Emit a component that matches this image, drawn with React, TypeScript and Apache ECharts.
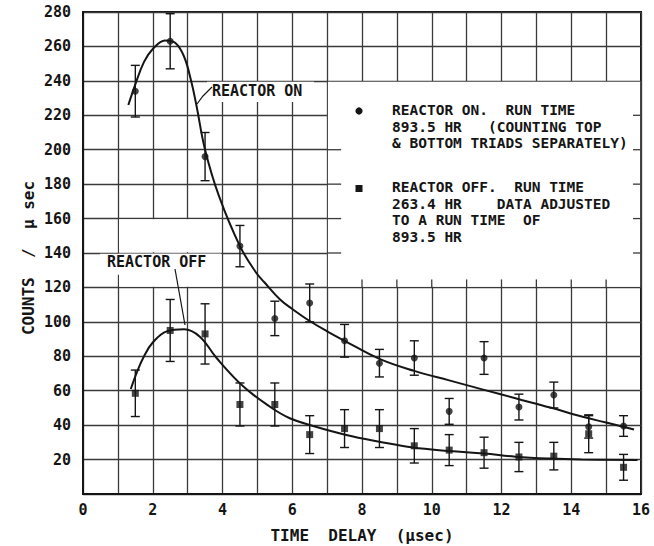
import React, { useEffect, useRef } from "react";
import * as echarts from "echarts";

// Delay-bin centres (μsec)
const delays = [1.5, 2.5, 3.5, 4.5, 5.5, 6.5, 7.5, 8.5, 9.5, 10.5, 11.5, 12.5, 13.5, 14.5, 15.5];

// Reactor on: counts per μsec and one-sigma errors
const onCounts = [234, 263, 196, 144, 102, 111, 89, 76, 79, 48, 79, 50.5, 57.5, 39, 39.5];
const onErrors = [15, 16, 14, 12, 10, 11, 9.5, 8, 10, 7.5, 9.5, 7.5, 7.5, 6.5, 6];

// Reactor off (scaled to 893.5 hr): counts per μsec and errors
const offCounts = [58.5, 95, 93, 52, 52, 34.5, 38, 38, 28, 25.5, 24, 21.5, 22, 35, 15.5];
const offErrors = [13.5, 18, 17.5, 12.5, 12.5, 11, 11, 11, 10, 9, 9, 8.5, 8, 11, 7.5];

// Hand-fitted curves through each data set
const onCurve = [
  [1.3, 226], [1.5, 238], [1.75, 251], [2.0, 258.5], [2.35, 263.5], [2.65, 262],
  [2.9, 254], [3.1, 240], [3.25, 226], [3.5, 200], [3.9, 173], [4.5, 144],
  [4.95, 129], [5.2, 123], [5.65, 113], [6.0, 107.5], [6.5, 100.5], [7.0, 94.5],
  [7.5, 89], [8.5, 78.5], [9.5, 71.5], [10.5, 66], [11.5, 60.5], [12.4, 55.6],
  [13.4, 50.2], [14.3, 45], [15.0, 41.5], [15.8, 37.5],
];
const offCurve = [
  [1.37, 61], [1.55, 71], [1.75, 80], [2.0, 88], [2.4, 94.5], [2.9, 95.7],
  [3.35, 91.4], [3.83, 79], [4.6, 62.4], [5.36, 50.7], [5.93, 44], [6.6, 39.5],
  [7.55, 34.3], [8.5, 30.4], [9.46, 27], [10.5, 25], [11.5, 23.5], [12.4, 21.7],
  [13.4, 20.6], [14.3, 20.1], [15.9, 19.8],
];

const X_MAX = 16;
const Y_MAX = 280;

const legendOn = ["REACTOR ON.  RUN TIME", "893.5 HR   (COUNTING TOP", "& BOTTOM TRIADS SEPARATELY)"];
const legendOff = ["REACTOR OFF.  RUN TIME", "263.4 HR    DATA ADJUSTED", "TO A RUN TIME  OF", "893.5 HR"];

const INK = "#151515";
const GRID_INK = "#3a3a3a";
const FONT = '"DejaVu Sans Mono", monospace';

// plot rectangle in pixels
const G = { left: 83, top: 12, width: 558, height: 482 };
const px = (v: number) => G.left + (v / X_MAX) * G.width;
const py = (v: number) => G.top + G.height - (v / Y_MAX) * G.height;

function gridLine(x1: number, y1: number, x2: number, y2: number) {
  return {
    type: "line",
    z: 3,
    silent: true,
    shape: { x1, y1, x2, y2 },
    style: { stroke: GRID_INK, lineWidth: 1.3 },
  };
}

function whiteRect(x: number, y: number, w: number, h: number) {
  return {
    type: "rect",
    z: 1,
    silent: true,
    shape: { x, y, width: w, height: h },
    style: { fill: "#ffffff" },
  };
}

function textLine(text: string, x: number, y: number, size: number) {
  return {
    type: "text",
    z: 3,
    silent: true,
    style: { text, x, y, font: `bold ${size}px ${FONT}`, fill: INK, align: "left", verticalAlign: "middle" },
  };
}

function buildGraphics() {
  const els: any[] = [];
  // gaps in the ruling behind the two curve labels
  els.push(whiteRect(207, py(240) + 0.9, 107, 102 - (py(240) + 0.9)));
  els.push(whiteRect(px(1) + 1.2, py(160) + 0.8, px(4) - px(1) - 2.4, py(140) - py(160) - 1.6));
  els.push(whiteRect(100, py(140) + 0.8, px(4) - 1.2 - 100, 274 - py(140)));
  els.push(whiteRect(px(1) + 1.2, py(140) + 0.8, px(4) - px(1) - 2.4, py(120) - py(140) - 1.6));
  // key panel
  els.push(whiteRect(px(7) + 0.8, py(240) + 0.8, px(16) - px(7) - 1.6, py(120) - py(240) - 1.6));
  [140, 160, 180, 200].forEach((v) => els.push(gridLine(px(7), py(v), px(7) + 14, py(v))));
  [140, 160, 180, 200, 220].forEach((v) => els.push(gridLine(px(16) - 8, py(v), px(16), py(v))));
  [8, 9, 10, 11, 12, 13, 14, 15].forEach((v) => els.push(gridLine(px(v), py(120), px(v), py(120) - 8)));

  els.push({ type: "circle", z: 3, shape: { cx: 359, cy: 111, r: 3.6 }, style: { fill: INK } });
  els.push({ type: "rect", z: 3, shape: { x: 355.5, y: 185, width: 7, height: 7 }, style: { fill: INK } });
  legendOn.forEach((t, i) => els.push(textLine(t, 392, 110 + i * 16.5, 14.5)));
  legendOff.forEach((t, i) => els.push(textLine(t, 392, 187 + i * 16.5, 14.5)));

  // curve labels with leaders
  els.push(textLine("REACTOR ON", 212, 91, 15));
  els.push({ type: "polyline", z: 3, shape: { points: [[212, 87], [203, 96], [197, 104]] }, style: { stroke: INK, lineWidth: 1.2, fill: null } });
  els.push(textLine("REACTOR OFF", 107, 262, 15));
  els.push({ type: "line", z: 3, shape: { x1: 175, y1: 269, x2: 185, y2: 325 }, style: { stroke: INK, lineWidth: 1.2 } });

  // axis titles
  els.push({
    type: "text", z: 3,
    style: { text: "TIME  DELAY  (μsec)", x: px(8), y: 535, font: `bold 16px ${FONT}`, fill: INK, align: "center", verticalAlign: "middle" },
  });
  els.push({
    type: "text", z: 3, x: 28, y: 258, rotation: Math.PI / 2,
    style: { text: "COUNTS  /  μ sec", x: 0, y: 0, font: `bold 16px ${FONT}`, fill: INK, align: "center", verticalAlign: "middle" },
  });
  return els;
}

function errorBarItem(params: any, api: any) {
  const x = api.value(0);
  const top = api.coord([x, api.value(2)]);
  const bot = api.coord([x, api.value(1)]);
  const hw = 4.5;
  const style = { stroke: INK, lineWidth: 1.4 };
  return {
    type: "group",
    children: [
      { type: "line", shape: { x1: top[0], y1: top[1], x2: bot[0], y2: bot[1] }, style },
      { type: "line", shape: { x1: top[0] - hw, y1: top[1], x2: top[0] + hw, y2: top[1] }, style },
      { type: "line", shape: { x1: bot[0] - hw, y1: bot[1], x2: bot[0] + hw, y2: bot[1] }, style },
    ],
  };
}

export default function App() {
  const ref = useRef<HTMLDivElement>(null);
  useEffect(() => {
    const chart = echarts.init(ref.current!, null, { renderer: "svg" });
    const onBars = delays.map((d, i) => [d, onCounts[i] - onErrors[i], onCounts[i] + onErrors[i]]);
    const offBars = delays.map((d, i) => [d, offCounts[i] - offErrors[i], offCounts[i] + offErrors[i]]);
    chart.setOption({
      animation: false,
      backgroundColor: "#ffffff",
      grid: {
        left: G.left, top: G.top, width: G.width, height: G.height,
        show: true, borderColor: INK, borderWidth: 2, backgroundColor: "transparent",
      },
      xAxis: {
        type: "value", min: 0, max: X_MAX, interval: 1,
        axisLine: { show: true, lineStyle: { color: INK, width: 2 } },
        axisTick: { show: false },
        splitLine: { show: true, lineStyle: { color: GRID_INK, width: 1.3 } },
        axisLabel: {
          margin: 8, color: INK, fontFamily: FONT, fontWeight: "bold", fontSize: 15,
          formatter: (v: number) => (v % 2 === 0 ? String(v) : ""),
        },
      },
      yAxis: {
        type: "value", min: 0, max: Y_MAX, interval: 20,
        axisLine: { show: true, lineStyle: { color: INK, width: 2 } },
        axisTick: { show: false },
        splitLine: { show: true, lineStyle: { color: GRID_INK, width: 1.3 } },
        axisLabel: {
          margin: 12, color: INK, fontFamily: FONT, fontWeight: "bold", fontSize: 15,
          formatter: (v: number) => (v === 0 ? "" : String(v)),
        },
      },
      graphic: buildGraphics(),
      series: [
        {
          name: "Reactor on fit", type: "line", data: onCurve, smooth: 0.4, showSymbol: false, z: 3,
          lineStyle: { color: INK, width: 2 }, silent: true,
        },
        {
          name: "Reactor off fit", type: "line", data: offCurve, smooth: 0.4, showSymbol: false, z: 3,
          lineStyle: { color: INK, width: 2 }, silent: true,
        },
        { name: "Reactor on errors", type: "custom", data: onBars, renderItem: errorBarItem, encode: { x: 0, y: [1, 2] }, z: 4 },
        { name: "Reactor off errors", type: "custom", data: offBars, renderItem: errorBarItem, encode: { x: 0, y: [1, 2] }, z: 4 },
        {
          name: "Reactor on", type: "scatter", symbol: "circle", symbolSize: 7, z: 5,
          data: delays.map((d, i) => [d, onCounts[i]]), itemStyle: { color: INK },
        },
        {
          name: "Reactor off", type: "scatter", symbol: "rect", symbolSize: 7, z: 5,
          data: delays.map((d, i) => [d, offCounts[i]]), itemStyle: { color: INK },
        },
      ],
    });
    return () => chart.dispose();
  }, []);
  return (
    <div
      ref={ref}
      style={{ position: "fixed", left: 0, top: 0, width: 654, height: 546, background: "#ffffff" }}
    />
  );
}
